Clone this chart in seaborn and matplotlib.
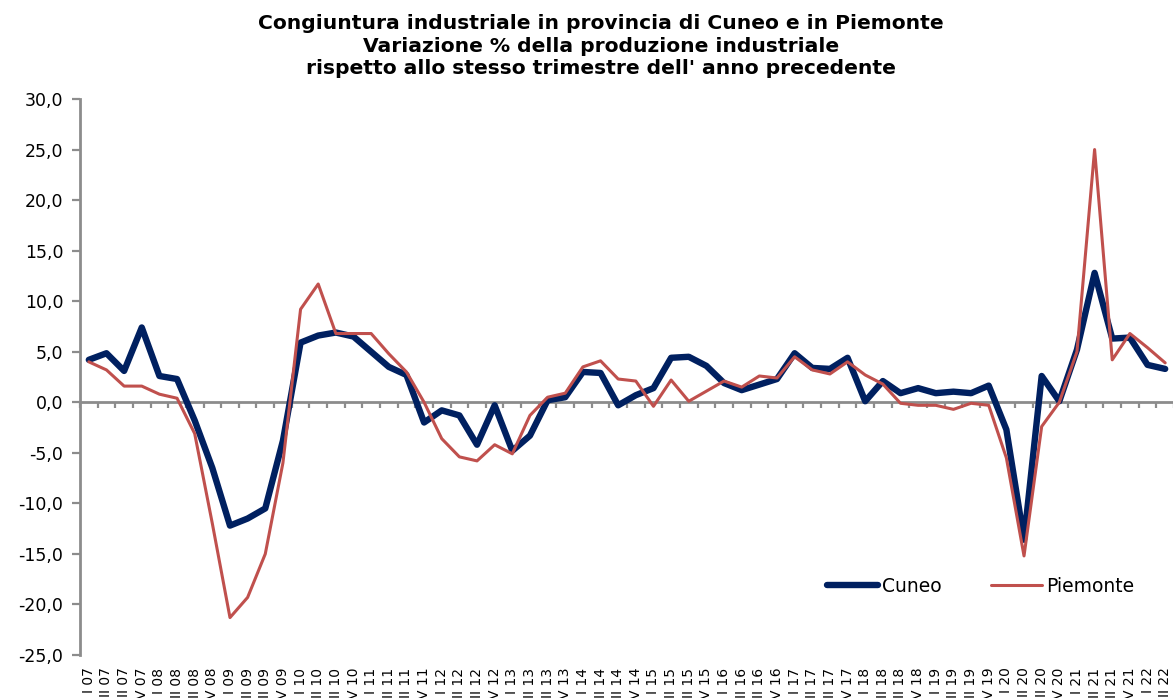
import numpy as np
import pandas as pd
import matplotlib
matplotlib.use("Agg")
import matplotlib.pyplot as plt
import seaborn as sns

quarters = ["I", "II", "III", "IV"]
years = ["07", "08", "09", "10", "11", "12", "13", "14", "15", "16", "17", "18", "19", "20", "21", "22"]
labels = [f"{q} {y}" for y in years for q in quarters][:62]

cuneo = [4.2, 4.85, 3.1, 7.4, 2.6, 2.3, -1.8, -6.5, -12.2, -11.5, -10.5, -3.8,
         5.9, 6.6, 6.9, 6.5, 5.0, 3.5, 2.7, -2.0, -0.8, -1.3, -4.2, -0.3,
         -4.8, -3.3, 0.2, 0.5, 3.0, 2.9, -0.3, 0.7, 1.4, 4.4, 4.5, 3.6,
         1.9, 1.2, 1.75, 2.3, 4.85, 3.4, 3.3, 4.4, 0.1, 2.1, 0.9, 1.4,
         0.9, 1.05, 0.9, 1.65, -2.7, -13.6, 2.6, 0.1, 5.2, 12.8, 6.3, 6.4,
         3.7, 3.3]
piemonte = [4.0, 3.2, 1.6, 1.6, 0.8, 0.4, -3.1, -12.0, -21.3, -19.3, -15.0, -6.0,
            9.2, 11.7, 6.8, 6.8, 6.8, 4.8, 3.0, 0.0, -3.6, -5.4, -5.8, -4.2,
            -5.1, -1.3, 0.5, 0.9, 3.5, 4.1, 2.3, 2.1, -0.4, 2.2, 0.1, 1.1,
            2.1, 1.5, 2.6, 2.4, 4.5, 3.2, 2.8, 4.0, 2.7, 1.8, -0.1, -0.3,
            -0.3, -0.7, -0.1, -0.3, -5.5, -15.2, -2.4, 0.0, 5.0, 25.0, 4.2, 6.8,
            5.4, 3.9]
yticks = [-25, -20, -15, -10, -5, 0, 5, 10, 15, 20, 25, 30]
ytick_labels = ["-25,0", "-20,0", "-15,0", "-10,0", "-5,0", "0,0", "5,0", "10,0", "15,0", "20,0", "25,0", "30,0"]
title = ("Congiuntura industriale in provincia di Cuneo e in Piemonte\n"
         "Variazione % della produzione industriale\n"
         "rispetto allo stesso trimestre dell' anno precedente")

df = pd.DataFrame({"idx": np.arange(len(labels)), "Cuneo": cuneo, "Piemonte": piemonte})

sns.set_theme(style="white")
plt.rcParams["font.family"] = ["DejaVu Sans"]
plt.rcParams["text.color"] = "black"
plt.rcParams["xtick.color"] = "black"
plt.rcParams["ytick.color"] = "black"

fig = plt.figure(figsize=(11.73, 6.98), dpi=100)
ax = fig.add_axes([80 / 1173, 1 - 655 / 698, 1094 / 1173, (655 - 99) / 698])

sns.lineplot(data=df, x="idx", y="Cuneo", ax=ax, color="#002060", linewidth=4.6,
             label="Cuneo", solid_capstyle="round", solid_joinstyle="round")
sns.lineplot(data=df, x="idx", y="Piemonte", ax=ax, color="#C0504D", linewidth=2.2,
             label="Piemonte", solid_joinstyle="round")

ax.set_xlim(-0.5, len(labels) - 0.5)
ax.set_ylim(-25, 30)
ax.set_xlabel("")
ax.set_ylabel("")

ax.set_yticks(yticks)
ax.set_yticklabels(ytick_labels, fontsize=12.5, color="black")
ax.tick_params(axis="y", which="major", direction="out", length=6, width=1.6,
               color="#8c8c8c", left=True, pad=6)

ax.set_xticks(np.arange(len(labels)))
ax.set_xticklabels(labels, rotation=90, fontsize=10, color="black")
ax.tick_params(axis="x", length=0, pad=9)

for s in ["top", "right", "bottom"]:
    ax.spines[s].set_visible(False)
ax.spines["left"].set_color("#8c8c8c")
ax.spines["left"].set_linewidth(2)

# zero axis with category-boundary ticks
sec = ax.secondary_xaxis(25 / 55)
sec.set_xticks(np.arange(len(labels) + 1) - 0.5)
sec.set_xticklabels([])
sec.tick_params(direction="out", length=4, width=1.6, color="#8c8c8c")
sec.spines["bottom"].set_color("#8c8c8c")
sec.spines["bottom"].set_linewidth(2)
sec.spines["top"].set_visible(False)

leg = ax.legend(loc="lower left", bbox_to_anchor=(730 / 1094, 0.076), ncol=2, frameon=False,
                fontsize=13.5, handlelength=2.75, handletextpad=0.2, columnspacing=2.6)
for t in leg.get_texts():
    t.set_color("black")

fig.text(601 / 1173, 1 - 14 / 698, title, ha="center", va="top", fontsize=14.6,
         fontweight="bold", linespacing=1.25, color="black")

fig.savefig("out.png", dpi=100)
